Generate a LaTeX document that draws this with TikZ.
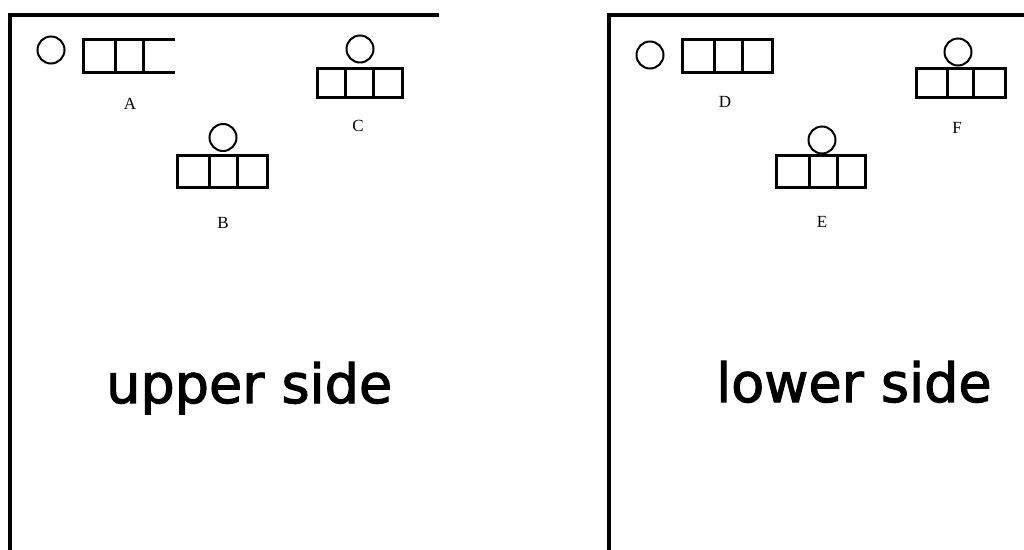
\documentclass[tikz,border=0pt]{standalone}
\usepackage{fontspec}
\setmainfont{Liberation Serif}
\newfontfamily\sidefont[FakeBold=2]{DejaVu Sans}
\begin{document}
\begin{tikzpicture}[x=1pt,y=-1pt,
  frame/.style={line width=3.5pt, line cap=rect},
  cellbox/.style={line width=3pt},
  ring/.style={circle, draw, line width=2pt, minimum size=27pt, inner sep=0pt},
  letter/.style={font=\fontsize{17}{17}\selectfont, inner sep=0pt},
  sidetext/.style={font=\sidefont\fontsize{54}{60}\selectfont, inner sep=0pt, anchor=base west}
]
\useasboundingbox (0,0) rectangle (1024,549);
% panels
\draw[frame] (10,549) -- (10,15) -- (437,15);
\draw[frame] (609,549) -- (609,15) -- (1030,15);

% ---- upper side ----
% A
\node[ring] (cA) at (51,50) {};
\draw[cellbox] (83,39) rectangle (115,72);
\draw[cellbox] (115,39) rectangle (143,72);
\draw[cellbox] (175,39) -- (143,39) -- (143,72) -- (175,72);
\node[letter] (lA) at (130,104) {A};
% B
\node[ring] (cB) at (223,137.5) {};
\draw[cellbox] (177,155) rectangle (209,187);
\draw[cellbox] (209,155) rectangle (237,187);
\draw[cellbox] (237,155) rectangle (267,187);
\node[letter] (lB) at (223,223) {B};
% C
\node[ring] (cC) at (360,49) {};
\draw[cellbox] (317,68) rectangle (345,97);
\draw[cellbox] (345,68) rectangle (373,97);
\draw[cellbox] (373,68) rectangle (402,97);
\node[letter] (lC) at (358,126) {C};
\node[sidetext] (up) at (106,403) {upper side};

% ---- lower side ----
% D
\node[ring] (cD) at (650,55) {};
\draw[cellbox] (682,39) rectangle (714,72);
\draw[cellbox] (714,39) rectangle (742,72);
\draw[cellbox] (742,39) rectangle (772,72);
\node[letter] (lD) at (725,102) {D};
% E
\node[ring] (cE) at (822,140) {};
\draw[cellbox] (776,155) rectangle (809,187);
\draw[cellbox] (809,155) rectangle (837,187);
\draw[cellbox] (837,155) rectangle (865,187);
\node[letter] (lE) at (822,222) {E};
% F
\node[ring] (cF) at (958,52) {};
\draw[cellbox] (916,68) rectangle (947,97);
\draw[cellbox] (947,68) rectangle (973,97);
\draw[cellbox] (973,68) rectangle (1005,97);
\node[letter] (lF) at (957,128) {F};
\node[sidetext] (low) at (716,402) {lower side};
\end{tikzpicture}
\end{document}
